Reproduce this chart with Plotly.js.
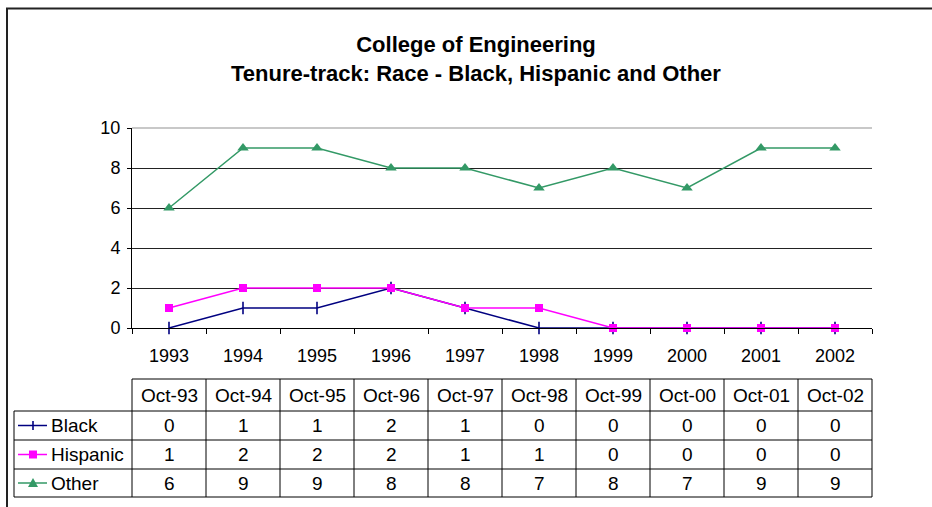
<!DOCTYPE html>
<html>
<head>
<meta charset="utf-8">
<script src="https://cdn.plot.ly/plotly-3.0.1.min.js"></script>
<style>html,body{margin:0;padding:0;background:#fff;}#chart{width:932px;height:507px;}</style>
</head>
<body>
<div id="chart"></div>
<script>
// ---- data ----
const years = ['1993','1994','1995','1996','1997','1998','1999','2000','2001','2002'];
const tableHeaders = ['Oct-93','Oct-94','Oct-95','Oct-96','Oct-97','Oct-98','Oct-99','Oct-00','Oct-01','Oct-02'];
const seriesNames = ['Black','Hispanic','Other'];
const black = [0,1,1,2,1,0,0,0,0,0];
const hispanic = [1,2,2,2,1,1,0,0,0,0];
const other = [6,9,9,8,8,7,8,7,9,9];
const yTicks = [0,2,4,6,8,10];

// ---- layout geometry ----
const W = 932, H = 507;
const M = {l:132, r:60, t:128, b:179};
const plotW = W - M.l - M.r, plotH = H - M.t - M.b;
const px2x = p => (p - M.l) / plotW;
const px2y = p => (H - M.b - p) / plotH;
const FONT = "Arial, 'Liberation Sans', sans-serif";
const FS = 18;
const TFS = 19;

const styles = [
  {color:'#000080', symbol:'line-ns', size:9, mline:{color:'#000080', width:1.6}},
  {color:'#FF00FF', symbol:'square', size:8, mline:{color:'#FF00FF', width:0}},
  {color:'#339966', symbol:'triangle-up', size:10, mline:{color:'#339966', width:0}}
];
const allSeries = [black, hispanic, other];

const traces = allSeries.map((vals, k) => ({
  type:'scatter', mode:'lines+markers', name: seriesNames[k],
  x: years, y: vals,
  line:{color: styles[k].color, width:1.5},
  marker:{symbol: styles[k].symbol, size: styles[k].size, color: styles[k].color, line: styles[k].mline},
  cliponaxis:false, showlegend:false, hoverinfo:'x+y+name'
}));

// ---- table (shapes + annotations) ----
const shapes = [];
const annotations = [];
const rowTops = [379, 411, 440, 469, 497];
const legLeft = 14;
const lineStyle = {color:'#000', width:1};

shapes.push({type:'line', xref:'paper', yref:'paper', x0:0, x1:1, y0:px2y(rowTops[0]), y1:px2y(rowTops[0]), line:lineStyle});
for (let r = 1; r < rowTops.length; r++) {
  shapes.push({type:'line', xref:'paper', yref:'paper', x0:px2x(legLeft), x1:1, y0:px2y(rowTops[r]), y1:px2y(rowTops[r]), line:lineStyle});
}
for (let i = 0; i <= years.length; i++) {
  shapes.push({type:'line', xref:'paper', yref:'paper', x0:i/years.length, x1:i/years.length, y0:px2y(rowTops[0]), y1:px2y(rowTops[4]), line:lineStyle});
}
shapes.push({type:'line', xref:'paper', yref:'paper', x0:px2x(legLeft), x1:px2x(legLeft), y0:px2y(rowTops[1]), y1:px2y(rowTops[4]), line:lineStyle});

// header texts (x = category index on the category axis)
tableHeaders.forEach((h, i) => {
  annotations.push({xref:'x', yref:'paper', x:i, y:px2y((rowTops[0]+rowTops[1])/2), text:h, showarrow:false,
    xanchor:'center', yanchor:'middle', font:{family:FONT, size:TFS, color:'#000'}});
});
allSeries.forEach((vals, k) => {
  const ypix = (rowTops[k+1] + rowTops[k+2]) / 2;
  const yc = px2y(ypix);
  vals.forEach((v, i) => {
    annotations.push({xref:'x', yref:'paper', x:i, y:yc, text:String(v), showarrow:false,
      xanchor:'center', yanchor:'middle', font:{family:FONT, size:TFS, color:'#000'}});
  });
  annotations.push({xref:'paper', yref:'paper', x:px2x(49), y:yc, text:seriesNames[k], showarrow:false,
    xanchor:'left', yanchor:'middle', font:{family:FONT, size:TFS, color:'#000'}});
  const st = styles[k];
  shapes.push({type:'line', xref:'paper', yref:'paper', x0:px2x(18), x1:px2x(47), y0:yc, y1:yc, line:{color:st.color, width:1.5}});
  const cx = 33;
  if (st.symbol === 'line-ns') {
    shapes.push({type:'line', xref:'paper', yref:'paper', x0:px2x(cx), x1:px2x(cx), y0:px2y(ypix-4.5), y1:px2y(ypix+4.5), line:{color:st.color, width:1.6}});
  } else if (st.symbol === 'square') {
    shapes.push({type:'rect', xref:'paper', yref:'paper', x0:px2x(cx-4), x1:px2x(cx+4), y0:px2y(ypix-4), y1:px2y(ypix+4), line:{width:0}, fillcolor:st.color});
  } else {
    const p = `M ${px2x(cx-5)} ${px2y(ypix+4)} L ${px2x(cx+5)} ${px2y(ypix+4)} L ${px2x(cx)} ${px2y(ypix-5)} Z`;
    shapes.push({type:'path', xref:'paper', yref:'paper', path:p, line:{width:0}, fillcolor:st.color});
  }
});

shapes.push({type:'line', xref:'paper', yref:'paper', x0:0, x1:1, y0:1, y1:1, line:{color:'#c8c8c8', width:2}, layer:'between'});
shapes.push({type:'rect', xref:'paper', yref:'paper', x0:px2x(7), x1:px2x(960), y0:px2y(8.5), y1:px2y(540), line:{color:'#222', width:2}, fillcolor:'rgba(0,0,0,0)'});

const layout = {
  width: W, height: H,
  margin: M,
  paper_bgcolor:'#fff', plot_bgcolor:'#fff',
  font:{family:FONT, color:'#000'},
  title:{text:'<b>College of Engineering<br>Tenure-track: Race - Black, Hispanic and Other</b>',
    font:{family:FONT, size:22, color:'#000'}, x:476/W, xanchor:'center', xref:'container',
    y:1 - 52/H, yanchor:'middle', yref:'container'},
  xaxis:{type:'category', range:[-0.5, years.length-0.5], tickson:'boundaries', ticks:'outside', ticklen:5,
    tickcolor:'#000', tickwidth:1, showline:true, linecolor:'#000', linewidth:1, showgrid:false,
    tickfont:{family:FONT, size:FS, color:'#000'}, ticklabelstandoff:11, fixedrange:true},
  yaxis:{range:[0,10], tickvals:yTicks, ticks:'outside', ticklen:4, tickcolor:'#000', showline:true,
    linecolor:'#000', linewidth:1, showgrid:true, gridcolor:'#222', gridwidth:1, zeroline:false,
    tickfont:{family:FONT, size:FS, color:'#000'}, ticklabelstandoff:3, fixedrange:true},
  shapes: shapes,
  annotations: annotations,
  showlegend:false
};

Plotly.newPlot('chart', traces, layout, {displayModeBar:false, staticPlot:true});
</script>
</body>
</html>
